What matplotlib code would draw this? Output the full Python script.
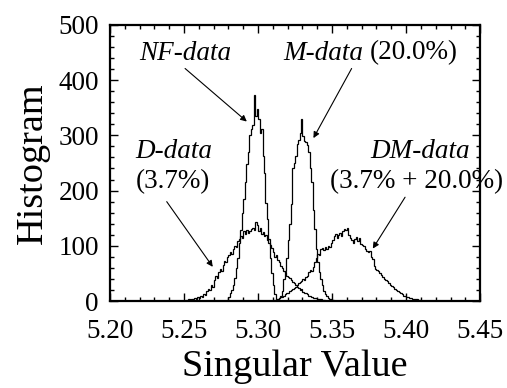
import numpy as np
import matplotlib
matplotlib.use("Agg")
import matplotlib.pyplot as plt

plt.rcParams['font.family'] = ['Liberation Serif', 'DejaVu Serif']

# histogram data, bin width 0.001, counts
bin_w = 0.001

nf_start = 5.279
nf_counts = [2, 8, 14, 20, 30, 42, 60, 78, 105, 128, 160, 185, 215, 248, 270,
             300, 312, 318, 373, 335, 348, 330, 305, 312, 262, 232, 178, 148,
             105, 78, 50, 30, 13, 4, 0]

m_start = 5.313
m_counts = [2, 5, 10, 18, 40, 55, 78, 110, 140, 175, 240, 250, 262, 285, 292,
            305, 330, 298, 290, 288, 282, 270, 240, 215, 165, 130, 95, 70, 52,
            40, 30, 18, 12, 9, 6, 4, 3, 2, 1, 0]

d_start = 5.249
d_counts = [1, 0, 2, 1, 3, 2, 4, 3, 6, 4, 8, 6, 10, 8, 13, 11, 18, 22, 20, 30,
            26, 38, 45, 42, 52, 58, 55, 66, 72, 70, 80, 84, 88, 85, 95, 100, 98,
            108, 112, 118, 115, 126, 122, 128, 124, 126, 130, 133, 128, 144, 138,
            126, 132, 122, 125, 118, 120, 110, 112, 102, 96, 88, 80, 84, 74, 70,
            64, 60, 55, 52, 46, 44, 42, 38, 34, 32, 30, 26, 24, 20, 21, 17, 15,
            14, 12, 10, 9, 8, 6, 6, 5, 4, 4, 3, 2, 2, 1, 1, 0]

dm_start = 5.310
dm_counts = [1, 2, 2, 4, 5, 7, 8, 10, 12, 14, 15, 18, 20, 22, 24, 26, 30, 32,
             34, 36, 40, 38, 44, 46, 52, 56, 55, 62, 70, 78, 86, 84, 94, 96, 92,
             98, 95, 100, 98, 106, 110, 118, 122, 114, 120, 124, 118, 126, 130,
             128, 132, 120, 115, 110, 106, 112, 116, 108, 114, 104, 102, 100, 94,
             90, 88, 90, 80, 76, 64, 58, 56, 54, 50, 48, 44, 40, 38, 36, 32, 30,
             27, 26, 22, 20, 18, 16, 14, 12, 10, 9, 8, 7, 6, 5, 4, 4, 3, 3, 2, 2,
             1, 1, 1, 0]

x_ticks = [5.20, 5.25, 5.30, 5.35, 5.40, 5.45]
y_ticks = [0, 100, 200, 300, 400, 500]

fig = plt.figure(figsize=(5.07, 3.88), dpi=100)
ax = fig.add_axes([0.217, 0.224, 0.730, 0.712])

for start, counts in [(d_start, d_counts), (nf_start, nf_counts),
                      (m_start, m_counts), (dm_start, dm_counts)]:
    counts = np.array(counts, dtype=float)
    edges = start + bin_w * np.arange(len(counts) + 1)
    ax.stairs(counts, edges, color='k', lw=0.9)

ax.set_xlim(5.20, 5.45)
ax.set_ylim(0, 500)
ax.set_xticks(x_ticks)
ax.set_xticklabels([f"{v:.2f}" for v in x_ticks])
ax.set_yticks(y_ticks)
ax.set_xticks(np.arange(5.20, 5.4501, 0.01), minor=True)
ax.set_yticks(np.arange(0, 501, 20), minor=True)
ax.tick_params(which='both', direction='in', top=True, right=True,
               labelsize=19.5, width=1.0)
ax.tick_params(which='major', length=6)
ax.tick_params(which='minor', length=3)
ax.tick_params(axis='x', which='major', pad=13)
ax.tick_params(axis='y', which='major', pad=8)
for s in ax.spines.values():
    s.set_linewidth(1.6)

ax.set_xlabel("Singular Value", fontsize=27.5, labelpad=4)
ax.set_ylabel("Histogram", fontsize=27.5, labelpad=6)

# labels and arrows
txt = dict(fontsize=19.5, va='center')
arr = dict(arrowstyle='-|>', lw=0.8, color='k', mutation_scale=9,
           shrinkA=0, shrinkB=0)

ax.text(5.2507, 449, "NF-data", style='italic', ha='center', **txt)
ax.annotate('', xy=(5.2924, 325), xytext=(5.2507, 421), arrowprops=arr)

ax.text(5.3712, 449, "M-data", style='italic', ha='right', **txt)
ax.text(5.3757, 449, "(20.0%)", ha='left', **txt)
ax.annotate('', xy=(5.3374, 295), xytext=(5.3632, 421), arrowprops=arr)

ax.text(5.2428, 270, "D-data", style='italic', ha='center', **txt)
ax.text(5.2428, 216, "(3.7%)", ha='center', **txt)
ax.annotate('', xy=(5.2694, 62), xytext=(5.2383, 180), arrowprops=arr)

ax.text(5.4095, 270, "DM-data", style='italic', ha='center', **txt)
ax.text(5.4072, 216, "(3.7% + 20.0%)", ha='center', clip_on=False, **txt)
ax.annotate('', xy=(5.3775, 95), xytext=(5.3993, 188), arrowprops=arr)

fig.savefig("out.png", dpi=100)
